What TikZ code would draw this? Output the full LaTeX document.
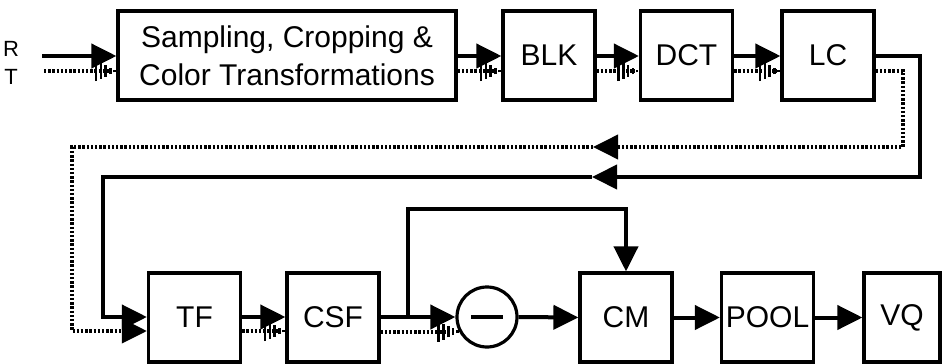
\documentclass[tikz,border=0pt]{standalone}
\usepackage{fontspec}
\setmainfont{Liberation Sans}
\usepackage{tikz}
\usetikzlibrary{arrows.meta}
% striped head for the dotted (T) signal
\pgfdeclarearrow{
    name=Hatched,
    setup code={
        \pgfarrowssettipend{0pt}
        \pgfarrowssetlineend{-2pt}
        \pgfarrowssetbackend{-11pt}
        \pgfarrowsupperhullpoint{-11pt}{5pt}
        \pgfarrowsupperhullpoint{0pt}{0pt}
    },
    drawing code={
        \pgfsetdash{}{0pt}
        \pgfsetbuttcap
        \pgfsetlinewidth{1.3pt}
        \pgfpathmoveto{\pgfqpoint{-10.2pt}{-5pt}}\pgfpathlineto{\pgfqpoint{-10.2pt}{5pt}}
        \pgfpathmoveto{\pgfqpoint{-7.8pt}{-3.9pt}}\pgfpathlineto{\pgfqpoint{-7.8pt}{3.9pt}}
        \pgfpathmoveto{\pgfqpoint{-5.4pt}{-2.8pt}}\pgfpathlineto{\pgfqpoint{-5.4pt}{2.8pt}}
        \pgfpathmoveto{\pgfqpoint{-3pt}{-1.7pt}}\pgfpathlineto{\pgfqpoint{-3pt}{1.7pt}}
        \pgfpathmoveto{\pgfqpoint{-0.9pt}{-0.7pt}}\pgfpathlineto{\pgfqpoint{-0.9pt}{0.7pt}}
        \pgfusepathqstroke
    }
}
\tikzset{
    block/.style={rectangle, draw=black, line width=1.6pt, minimum width=46pt, minimum height=44.5pt, inner sep=0pt, align=center, font=\fontsize{15}{19}\selectfont},
    sumnode/.style={circle, draw=black, line width=1.6pt, minimum size=30pt, inner sep=0pt},
    inlabel/.style={inner sep=0pt, font=\fontsize{11}{13}\selectfont},
    sig/.style={-{Triangle[length=12.5pt, width=12pt]}, line width=2pt},
    dsig/.style={-Hatched, line width=1.9pt, dash pattern=on 1.2pt off 0.9pt},
    dfb/.style={-{Triangle[length=12.5pt, width=12pt]}, line width=1.9pt, dash pattern=on 1.2pt off 0.9pt}
}

\begin{document}
\begin{tikzpicture}[x=0.5pt, y=-0.5pt]
    \useasboundingbox (0,0) rectangle (943,364);

    \node[inlabel] (R) at (11,49) {R};
    \node[inlabel] (T) at (11,77) {T};
    \node[block, minimum width=169pt] (samp) at (287,55.5) {Sampling, Cropping \&\\Color Transformations};
    \node[block] (blk) at (549,55.5) {BLK};
    \node[block] (dct) at (686.5,55.5) {DCT};
    \node[block] (lc) at (828,55.5) {LC};

    \node[block] (tf) at (194.5,317.5) {TF};
    \node[block] (csf) at (333,317.5) {CSF};
    \node[sumnode] (sub) at (487,317) {};
    \node[block] (cm) at (626,317.5) {CM};
    \node[block] (pool) at (767.5,317.5) {POOL};
    \node[block, minimum width=38pt] (vq) at (902,317.5) {VQ};
    \draw[line width=2.2pt] ([xshift=-8pt]sub.center) -- ([xshift=8pt]sub.center);

    % signal levels
    \coordinate (ts) at (0,56);
    \coordinate (td) at (0,71);
    \coordinate (bs) at (0,317);
    \coordinate (bd) at (0,331);
    \coordinate (inR) at (42,56);
    \coordinate (inT) at (44,71);

    % top row
    \draw[sig] (inR) -- (samp.west |- ts);
    \draw[dsig] (inT) -- (samp.west |- td);
    \draw[sig] (samp.east |- ts) -- (blk.west |- ts);
    \draw[dsig] (samp.east |- td) -- (blk.west |- td);
    \draw[sig] (blk.east |- ts) -- (dct.west |- ts);
    \draw[dsig] (blk.east |- td) -- (dct.west |- td);
    \draw[sig] (dct.east |- ts) -- (lc.west |- ts);
    \draw[dsig] (dct.east |- td) -- (lc.west |- td);

    % feedback to TF
    \coordinate (fsr) at (920,177);
    \coordinate (fsm) at (592,177);
    \coordinate (fsl) at (103,177);
    \coordinate (fdr) at (903,147);
    \coordinate (fdm) at (593,147);
    \coordinate (fdl) at (72,147);
    \draw[sig] (lc.east |- ts) -| (fsr) -- (fsm);
    \draw[sig] (fsm) -- (fsl) |- (tf.west |- bs);
    \draw[dfb] (lc.east |- td) -| (fdr) -- (fdm);
    \draw[dfb] (fdm) -- (fdl) |- (tf.west |- bd);

    % bottom row
    \draw[sig] (tf.east |- bs) -- (csf.west |- bs);
    \draw[dsig] (tf.east |- bd) -- (csf.west |- bd);
    \draw[sig] (csf.east |- bs) -- (sub.west);
    \draw[dsig] (csf.east |- sub.208) -- (sub.208);
    \coordinate (br) at (408,317);
    \draw[sig] (br) -- ++(0,-108) -| (cm.north);
    \draw[sig] (sub.east) -- (cm.west);
    \draw[sig] (cm.east) -- (pool.west);
    \draw[sig] (pool.east) -- (vq.west);
\end{tikzpicture}
\end{document}
